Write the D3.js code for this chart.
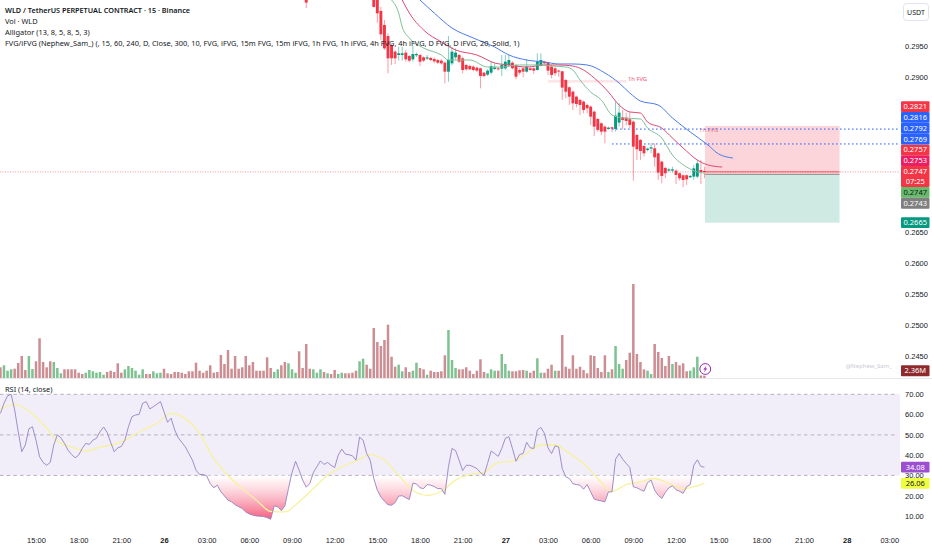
<!DOCTYPE html>
<html>
<head>
<meta charset="utf-8">
<script src="https://cdn.jsdelivr.net/npm/d3@7"></script>
<style>
    html, body { margin: 0; padding: 0; background: #fff; }
    svg { display: block; font-family: "Noto Sans", sans-serif; }
    text { fill: #131722; }
</style>
</head>
<body>
<div id="chart"></div>
<script>
// every bar is 15 minutes, bar 0 is 12:30 on the 25th, last bar is 14:00 on the 27th
const firstBarHour = 12.5;
const barsPerHour = 4;

// [bar, open, high, low, close]
const candles = [
    [86, .3030, .3040, .3011, .3020],
    [105, .3060, .3075, .3012, .3013], [106, .3030, .3045, .29876, .30027], [107, .30065, .3013, .29597, .29688],
    [108, .29839, .2992, .29436, .29462], [109, .29661, .29704, .29059, .29301], [110, .29516, .29543, .29194, .29301],
    [111, .29409, .29435, .2921, .29301], [112, .29355, .2949, .29264, .29382], [113, .29355, .2949, .29264, .29382],
    [114, .29393, .29436, .29247, .29285], [115, .29339, .29355, .29237, .29264], [116, .29285, .295, .29247, .29371],
    [117, .2935, .29393, .29322, .29371], [118, .29355, .29371, .29178, .29247], [119, .29317, .29333, .29242, .29264],
    [120, .29296, .29355, .29274, .29317], [121, .29307, .29328, .29258, .29274], [122, .2929, .29317, .2922, .29253],
    [123, .29274, .2929, .2921, .29231], [124, .29264, .29285, .29199, .2922], [125, .29231, .29253, .28898, .29086],
    [126, .29086, .29661, .28925, .29274], [127, .2922, .2949, .29188, .29409], [128, .29317, .29462, .29285, .29393],
    [129, .29355, .29371, .29226, .29247], [130, .29301, .29328, .29059, .29113], [131, .29194, .2921, .29102, .29124],
    [132, .29178, .29199, .29113, .29124], [133, .29167, .29188, .29091, .29113], [134, .29151, .29167, .29081, .29102],
    [135, .2914, .29151, .28817, .29016], [136, .2907, .29081, .28995, .29016], [137, .29038, .29124, .29016, .29102],
    [138, .2907, .29247, .29038, .29178], [139, .29129, .2922, .29113, .29156], [140, .2914, .29156, .29102, .29124],
    [141, .29134, .29355, .29016, .29194], [142, .2914, .29355, .29113, .29247], [143, .29194, .29355, .29178, .29274],
    [144, .29231, .29253, .29124, .2914], [145, .29194, .2921, .28962, .29005], [146, .29113, .2914, .29038, .2907],
    [147, .2914, .2916, .28995, .29086], [148, .29086, .29285, .2907, .29167], [149, .2914, .29156, .29102, .29113],
    [150, .2914, .29156, .29048, .29102], [151, .29113, .29382, .29102, .29247], [152, .29183, .29382, .29167, .29274],
    [153, .29247, .2926, .292, .29221], [154, .29232, .2925, .29033, .29103], [155, .29167, .292, .28979, .29033],
    [156, .2914, .2916, .29017, .2906], [157, .29103, .2912, .29006, .29087], [158, .29092, .291, .2863, .28829],
    [159, .28952, .2897, .28656, .28764], [160, .28834, .2885, .28549, .28683], [161, .28764, .2878, .28468, .28576],
    [162, .28683, .287, .28511, .28565], [163, .2863, .2865, .28388, .28549], [164, .28603, .2862, .28415, .28468],
    [165, .28549, .2857, .28415, .28495], [166, .28522, .2854, .28226, .28361], [167, .28441, .2846, .28049, .282],
    [168, .28323, .2834, .2812, .28146], [169, .28253, .2827, .28065, .28119], [170, .282, .2822, .27931, .28119],
    [171, .28162, .282, .2815, .28183], [172, .28189, .282, .2811, .28167], [173, .28162, .28603, .2812, .28377],
    [174, .28264, .28576, .282, .28425], [175, .2835, .28468, .28156, .28307], [176, .28345, .28425, .2822, .28291],
    [177, .28318, .28441, .28173, .28226], [178, .2828, .283, .27329, .27877], [179, .28065, .2808, .27662, .27834],
    [180, .27985, .28, .27662, .27807], [181, .27888, .279, .27716, .2777], [182, .27823, .2786, .278, .27845],
    [183, .27845, .27931, .2777, .27866], [184, .2785, .27931, .27554, .27705], [185, .27769, .2778, .27339, .27458],
    [186, .27635, .2765, .27286, .27404], [187, .27533, .2755, .27366, .27447], [188, .2749, .2753, .2747, .27511],
    [189, .2749, .27554, .27458, .27511], [190, .2749, .2751, .27275, .2742], [191, .27447, .2746, .2733, .27366],
    [192, .27415, .2743, .27221, .27339], [193, .27415, .2743, .27259, .2735], [194, .27382, .2742, .2737, .27404],
    [195, .27393, .27581, .27339, .27527], [196, .27393, .27662, .27366, .27608], [197, .27501, .27662, .27275, .27468],
    [198, .27484, .27554, .27366, .2747]
];

// alligator lines, read at the corners of each curve
const jawBars = [118, 122, 127, 133, 139, 143, 148, 153, 157, 161, 165, 170, 174, 177, 180, 185, 189, 194, 199, 202, 206];
const jawPrices = [.30242, .30032, .2979, .29629, .29484, .29355, .29274, .29242, .2921, .2921, .29194, .29065, .28903, .28742, .28613, .28548, .28339, .28113, .27903, .27758, .27694];
const teethBars = [113, 115, 119, 124, 128, 134, 139, 143, 148, 153, 157, 161, 164, 167, 171, 174, 177, 180, 182, 186, 189, 192, 196, 199, 203];
const teethPrices = [.30242, .30032, .29758, .29565, .29436, .29355, .29226, .29194, .29161, .29194, .29194, .29177, .29113, .28984, .28758, .28548, .28436, .28419, .28274, .28177, .28016, .27855, .27661, .27581, .27548];
const lipsBars = [110, 112, 113, 115, 119, 124, 126, 132, 137, 141, 146, 151, 155, 159, 161, 163, 166, 169, 172, 175, 180, 182, 186, 189, 193, 196, 198];
const lipsPrices = [.30242, .30032, .29807, .29629, .29468, .29355, .29274, .29274, .29161, .29161, .29194, .29194, .29177, .29161, .29113, .28952, .28758, .28629, .28387, .28339, .28323, .28177, .28016, .27742, .27548, .27468, .27452];

// volume in millions, one per bar, up = 1 for a green bar
const volumes = [
    10.7, 12.7, 7.3, 8.7, 9.3, 15, 22, 8, 22, 9,
    16.7, 39.7, 16, 10.7, 16.7, 16, 10, 4.7, 8.7, 8.7,
    8.7, 8.7, 5.3, 4, 5.3, 8, 6.7, 5.3, 6, 3.3,
    6, 7.3, 6, 14.7, 5.3, 8.7, 12, 10, 7.3, 3.3,
    8.7, 4, 4, 6.7, 4.7, 5.3, 9.3, 4.7, 4, 6,
    6, 5.3, 4, 6.7, 6.7, 15.3, 7.3, 5.3, 7.3, 12.7,
    5.3, 6, 23, 14, 28, 9.3, 22, 9.3,
    10.7, 22, 12.7, 16, 7.3, 7.3, 7.3, 20.7, 10, 6,
    8.7, 12.7, 16, 14.7, 8.7, 5.3, 26.7, 10, 34, 9.3,
    8.7, 5.3, 8.7, 6, 4.7, 4, 8, 4, 5.3, 4.7,
    4.7, 5.3, 7.3, 16.7, 19.3, 13.3, 9.3, 50, 36, 32,
    38, 53.3, 21.3, 11.3, 13.3, 6.7, 10.7, 6, 7.3, 15.3,
    10, 8.7, 3.3, 7.3, 6, 6, 6.7, 22.7, 48, 18,
    10, 8.7, 8.7, 10.7, 7.3, 4, 7.3,
    18.7, 6, 4.7, 8.7, 7.3, 7.3, 24, 14, 7.3, 6.7,
    6.7, 7.7, 8, 7.3, 5.3, 7.3, 19.7, 5.3, 5.3, 9.3,
    13.3, 7.3, 7.3, 43, 11.3, 9.3, 22.7, 9.3, 11.3, 8,
    4.7, 22.7, 22, 10, 6, 22.7, 6, 8.7, 32, 14,
    9.3, 18, 25.3, 94, 24, 16, 8.7, 7.3, 4, 34,
    26, 20, 12, 22, 14, 16, 12.7, 14.7, 6.7, 7.3,
    10.7, 21.3, 2.5, 2.36
];
const volumeUp = [
    0, 1, 1, 1, 0, 0, 0, 0, 1, 1,
    0, 0, 0, 0, 0, 1, 1, 1, 0, 0,
    0, 0, 0, 0, 1, 1, 1, 1, 1, 1,
    0, 0, 0, 0, 0, 1, 1, 1, 1, 1,
    1, 0, 0, 1, 1, 1, 0, 0, 0, 0,
    0, 0, 0, 0, 0, 0, 0, 0, 0, 0,
    0, 0, 0, 0, 0, 0, 0, 0,
    0, 0, 0, 0, 0, 0, 0, 0, 0, 1,
    1, 0, 0, 1, 1, 1, 0, 0, 0, 0,
    1, 1, 1, 0, 1, 0, 0, 1, 1, 0,
    0, 0, 0, 1, 1, 0, 0, 0, 0, 0,
    0, 0, 0, 0, 1, 1, 0, 0, 1, 1,
    0, 0, 1, 0, 0, 0, 0, 0, 1, 1,
    1, 0, 0, 0, 0, 0, 0,
    0, 0, 1, 1, 1, 0, 1, 1, 1, 0,
    0, 0, 0, 1, 0, 0, 1, 1, 0, 0,
    0, 1, 0, 0, 0, 0, 0, 0, 0, 0,
    0, 0, 0, 0, 0, 0, 1, 0, 1, 1,
    1, 0, 0, 0, 0, 0, 0, 1, 1, 0,
    0, 0, 0, 0, 1, 0, 0, 0, 0, 1,
    1, 1, 0, 0
];

const rsi = [
    60.6, 65.6, 69.2, 70, 62.3, 51.5, 41.7, 45, 53, 54,
    47.4, 39.2, 36.4, 35, 36.4, 45, 50, 48.6, 45.8, 42.5,
    40.3, 38.7, 40, 43.3, 45.8, 45.3, 47.4, 48.3, 51.5, 53.9,
    51.2, 46.3, 41.7, 43.6, 44.3, 47.4, 54, 59, 59.8, 60.1,
    65.6, 66.4, 62.8, 63.9, 65.1, 66.4, 61.4, 56.2, 58.2, 52.4,
    48.6, 46.3, 44.1, 40.8, 37.5, 32.6, 30.5, 30.5, 29.8, 26,
    23.9, 25.2, 21.9, 19.9, 17.8, 17, 15.6, 14.6,
    13.7, 12, 11, 10.4, 10, 9.9, 9.7, 9.2, 8.4, 15,
    14.5, 12.7, 15, 23.5, 31.4, 37, 32.6, 27.7, 24.2, 26,
    31.4, 34.3, 37.2, 35.4, 36.4, 35, 33.9, 40, 43, 40.5,
    40.2, 39.7, 37.5, 48.9, 47.4, 40.8, 37.5, 28.5, 22.7, 19.4,
    17.3, 15.6, 15.3, 16.6, 19.8, 20, 19, 18.1, 26.2, 25.8,
    23.9, 23.5, 25.5, 25.2, 24.5, 23.5, 23.5, 20.7, 34.3, 43.3,
    42.3, 37.5, 32.4, 35, 35, 34.3, 33.4, 31.4,
    30.1, 35.9, 42, 40.8, 39.4, 43.3, 48.3, 49.1, 43.3, 37,
    40.3, 40.8, 46.3, 43.6, 43.3, 52.4, 53.7, 50.7, 43.6, 40.8,
    44.6, 44, 33.4, 29.3, 28.5, 25.9, 25.5, 25.2, 23.2, 25.5,
    21.9, 18.3, 17.8, 17.4, 17, 21.9, 21.9, 38, 40.8, 38,
    35.9, 33.9, 24.4, 23.9, 23, 22.2, 26.5, 27.7, 22.7, 20.2,
    18.6, 21.6, 23.9, 24.9, 22.9, 22.2, 21.1, 24.4, 25.5, 35,
    37.7, 34.4, 34.08
];

// yellow smoothing line, read once an hour
const rsiMaBars = d3.range(0, 198, 4).concat(198);
const rsiMa = [
    62.8, 65, 61.8, 55.2, 47, 44, 42, 44, 45.3, 48.3,
    52.4, 55.7, 60.6, 58, 50.7, 38.4, 30, 23.5, 17.8, 12.3,
    12, 17, 23.5, 30.1, 34.3, 37, 40.3, 37.5, 30.1, 22.7,
    20.2, 22.2, 27.7, 30.5, 31.5, 36.4, 37, 40.8, 45, 45,
    40.8, 35.9, 28.5, 22.2, 25.5, 26.8, 28.5, 26, 23.5, 24.9, 26.06
];

// 0.2850 to 0.2700 sit under the tags, as they do on the real scale
const priceTicks = [.295, .29, .285, .28, .275, .27, .265, .26, .255, .25, .245];
const rsiTicks = [70, 60, 50, 40, 30, 20, 10];
const rsiLevels = [70, 50, 30];

// tick label hours, counted from 00:00 on the 25th
const timeTickHours = d3.range(15, 76, 3);
const timeTickLabel = h => h % 24 === 0 ? String(25 + h / 24) : `${String(h % 24).padStart(2, '0')}:00`;

// long position box
const entryPrice = 0.2743;
const stopPrice = 0.2821;
const targetPrice = 0.2665;
const boxHours = [62.04, 71.5];
const lastPrice = 0.2747;
const fvgLevels = [0.2816, 0.2792];

const legendLines = [
    'WLD / TetherUS PERPETUAL CONTRACT · 15 · Binance',
    'Vol · WLD',
    'Alligator (13, 8, 5, 8, 5, 3)',
    'FVG/iFVG (Nephew_Sam_) (, 15, 60, 240, D, Close, 300, 10, FVG, iFVG, 15m FVG, 15m iFVG, 1h FVG, 1h iFVG, 4h FVG, 4h iFVG, D FVG, D iFVG, 20, Solid, 1)'
];

// price tags on the right scale, the current price stays put and the rest stack off it
const tagsAbove = [
    { value: 0.2753, text: '0.2753', fill: '#e91e63' },
    { value: 0.2757, text: '0.2757', fill: '#f23645' },
    { value: 0.2769, text: '0.2769', fill: '#2962ff' },
    { value: 0.2792, text: '0.2792', fill: '#2962ff' },
    { value: 0.2816, text: '0.2816', fill: '#2962ff' },
    { value: 0.2821, text: '0.2821', fill: '#f23645' }
];
const tagsBelow = [
    { value: 0.2747, text: '0.2747', fill: '#66bb6a', ink: '#131722' },
    { value: 0.2743, text: '0.2743', fill: '#808080' },
    { value: 0.2665, text: '0.2665', fill: '#089981' }
];

const width = 932;
const height = 550;
const plotRight = 900;
const tagLeft = 901;
const tagWidth = 28.5;
const tagHeight = 10.8;
const labelSize = 7.5;

const upColor = '#089981';
const downColor = '#f23645';

const x = d3.scaleLinear().domain([15, 87]).range([36, 36 + 72 * 128 / 9]);
const xBar = bar => x(firstBarHour + bar / barsPerHour);
const yPrice = d3.scaleLinear().domain([.295, .245]).range([46, 356]);
const yVolume = d3.scaleLinear().domain([0, 94]).range([378, 284]);
const yRsi = d3.scaleLinear().domain([70, 10]).range([394.3, 516]);

const svg = d3.select('#chart').append('svg')
    .attr('width', width)
    .attr('height', height)
    .attr('viewBox', `0 0 ${width} ${height}`);

const defs = svg.append('defs');
defs.append('clipPath').attr('id', 'plot-clip')
    .append('rect').attr('width', plotRight).attr('height', 378);

const oversold = defs.append('linearGradient')
    .attr('id', 'oversold')
    .attr('gradientUnits', 'userSpaceOnUse')
    .attr('x1', 0).attr('x2', 0)
    .attr('y1', yRsi(30)).attr('y2', yRsi(8));
oversold.append('stop').attr('offset', 0).attr('stop-color', '#fff').attr('stop-opacity', 0.6);
oversold.append('stop').attr('offset', 1).attr('stop-color', '#f5587a');

// position box
const box = svg.append('g');
box.append('rect')
    .attr('x', x(boxHours[0])).attr('width', x(boxHours[1]) - x(boxHours[0]))
    .attr('y', yPrice(stopPrice)).attr('height', yPrice(entryPrice) - yPrice(stopPrice))
    .attr('fill', '#fcd5da');
box.append('rect')
    .attr('x', x(boxHours[0])).attr('width', x(boxHours[1]) - x(boxHours[0]))
    .attr('y', yPrice(entryPrice)).attr('height', yPrice(targetPrice) - yPrice(entryPrice))
    .attr('fill', '#cfe9e3');
box.append('line')
    .attr('x1', x(boxHours[0])).attr('x2', x(boxHours[1]))
    .attr('y1', yPrice(entryPrice)).attr('y2', yPrice(entryPrice))
    .attr('stroke', '#8a8a8a').attr('stroke-width', 1);
box.append('line')
    .attr('x1', x(boxHours[0])).attr('x2', x(boxHours[1]))
    .attr('y1', yPrice(lastPrice)).attr('y2', yPrice(lastPrice))
    .attr('stroke', '#f23645').attr('stroke-width', 0.8);

// faint 1h FVG band and its labels
svg.append('rect')
    .attr('x', xBar(154)).attr('width', xBar(176) - xBar(154))
    .attr('y', yPrice(0.2895)).attr('height', 2.5)
    .attr('fill', '#fde4e7');
svg.append('text').attr('x', xBar(176.5)).attr('y', yPrice(0.2893))
    .attr('font-size', 5.8).style('fill', '#ec5470').text('1h FVG');
svg.append('text').attr('x', xBar(196.5)).attr('y', yPrice(0.2812))
    .attr('font-size', 5.8).style('fill', '#ec5470').style('opacity', 0.75).text('1h FVG');

// dotted levels
svg.selectAll('.fvg-level')
    .data(fvgLevels)
    .join('line')
    .attr('class', 'fvg-level')
    .attr('x1', xBar(172)).attr('x2', plotRight - 2)
    .attr('y1', d => yPrice(d)).attr('y2', d => yPrice(d))
    .attr('stroke', '#2962ff').attr('stroke-width', 1).attr('stroke-dasharray', '1.6 2.4');
svg.append('line')
    .attr('x1', 0).attr('x2', plotRight)
    .attr('y1', yPrice(lastPrice)).attr('y2', yPrice(lastPrice))
    .attr('stroke', '#f23645').attr('stroke-opacity', 0.65).attr('stroke-width', 0.8).attr('stroke-dasharray', '1 1.5');

// candles
const candleGroup = svg.append('g').attr('clip-path', 'url(#plot-clip)');
const candleColor = d => d[4] >= d[1] ? upColor : downColor;
candleGroup.selectAll('.wick')
    .data(candles)
    .join('line')
    .attr('class', 'wick')
    .attr('x1', d => xBar(d[0])).attr('x2', d => xBar(d[0]))
    .attr('y1', d => yPrice(d[2])).attr('y2', d => yPrice(d[3]))
    .attr('stroke', candleColor).attr('stroke-width', 0.9).attr('stroke-opacity', 0.55);
candleGroup.selectAll('.body')
    .data(candles)
    .join('rect')
    .attr('class', 'body')
    .attr('x', d => xBar(d[0]) - 1.45)
    .attr('width', 2.9)
    .attr('y', d => yPrice(Math.max(d[1], d[4])))
    .attr('height', d => Math.max(1, Math.abs(yPrice(d[1]) - yPrice(d[4]))))
    .attr('fill', candleColor);

// alligator
const smooth = d3.line().curve(d3.curveMonotoneX).x(d => xBar(d[0])).y(d => yPrice(d[1]));
const alligator = [
    { bars: jawBars, prices: jawPrices, color: '#4a7be8' },
    { bars: teethBars, prices: teethPrices, color: '#e0486f' },
    { bars: lipsBars, prices: lipsPrices, color: '#7fbf9a' }
];
alligator.forEach(s => {
    candleGroup.append('path')
        .attr('d', smooth(d3.zip(s.bars, s.prices)))
        .attr('fill', 'none')
        .attr('stroke', s.color)
        .attr('stroke-width', 1);
});

// volume
svg.append('g').selectAll('rect')
    .data(volumes)
    .join('rect')
    .attr('x', (d, i) => xBar(i) - 1.25)
    .attr('width', 2.5)
    .attr('y', d => yVolume(d))
    .attr('height', d => yVolume(0) - yVolume(d))
    .attr('fill', (d, i) => volumeUp[i] ? '#7fc291' : '#cc8e92');

// replay icon sits on the last volume bar
const icon = svg.append('g').attr('transform', `translate(${xBar(198) + 0.8},369)`);
icon.append('circle').attr('r', 5.4).attr('fill', '#fff').attr('stroke', '#9c27b0').attr('stroke-width', 1);
icon.append('path').attr('d', 'M1.2,-3.2 L-2,0.5 L-0.2,0.5 L-1.2,3.2 L2,-0.6 L0.2,-0.6 Z').attr('fill', '#9c27b0');

svg.append('text').attr('x', 892).attr('y', 368).attr('text-anchor', 'end')
    .attr('font-size', 6).style('fill', '#c9ccd3').text('@Nephew_Sam_');

// pane divider
svg.append('line')
    .attr('x1', 0).attr('x2', width).attr('y1', 378.5).attr('y2', 378.5)
    .attr('stroke', '#e6e8ee');

// rsi pane
svg.append('rect')
    .attr('x', 0).attr('width', plotRight)
    .attr('y', yRsi(70)).attr('height', yRsi(30) - yRsi(70))
    .attr('fill', '#f2eef9');
svg.selectAll('.rsi-level')
    .data(rsiLevels)
    .join('line')
    .attr('class', 'rsi-level')
    .attr('x1', 0).attr('x2', plotRight - 2)
    .attr('y1', d => yRsi(d)).attr('y2', d => yRsi(d))
    .attr('stroke', '#8f8a98').attr('stroke-opacity', 0.8).attr('stroke-dasharray', '3.5 3.2').attr('stroke-width', 0.8);

svg.append('path')
    .attr('d', d3.area()
        .x((d, i) => xBar(i))
        .y0(yRsi(30))
        .y1(d => yRsi(Math.min(d, 30)))(rsi))
    .attr('fill', 'url(#oversold)');
svg.append('path')
    .attr('d', d3.line().curve(d3.curveMonotoneX)
        .x(d => xBar(d[0])).y(d => yRsi(d[1]))(d3.zip(rsiMaBars, rsiMa)))
    .attr('fill', 'none').attr('stroke', '#f6f29c').attr('stroke-width', 1.3);
svg.append('path')
    .attr('d', d3.line().x((d, i) => xBar(i)).y(d => yRsi(d))(rsi))
    .attr('fill', 'none').attr('stroke', '#9482c2').attr('stroke-width', 0.9);

// axes
const priceAxis = svg.append('g')
    .attr('transform', `translate(${plotRight},0)`)
    .call(d3.axisRight(yPrice).tickValues(priceTicks).tickSize(0).tickPadding(5).tickFormat(d3.format('.4f')));
const rsiAxis = svg.append('g')
    .attr('transform', `translate(${plotRight},0)`)
    .call(d3.axisRight(yRsi).tickValues(rsiTicks).tickSize(0).tickPadding(5).tickFormat(d3.format('.2f')));
const timeAxis = svg.append('g')
    .attr('transform', 'translate(0,535)')
    .call(d3.axisBottom(x).tickValues(timeTickHours).tickSize(0).tickPadding(3).tickFormat(timeTickLabel));
[priceAxis, rsiAxis, timeAxis].forEach(axis => {
    axis.select('.domain').remove();
    axis.selectAll('text').attr('font-size', labelSize).attr('font-family', null);
});
timeAxis.selectAll('text').attr('font-weight', h => h % 24 === 0 ? 600 : 400);

// legend
svg.append('g').selectAll('text')
    .data(legendLines)
    .join('text')
    .attr('x', 5)
    .attr('y', (d, i) => 13 + i * 11)
    .attr('font-size', (d, i) => i === 0 ? 7.25 : 7.4)
    .attr('font-weight', (d, i) => i === 0 ? 600 : 400)
    .text(d => d);
svg.append('text').attr('x', 5).attr('y', 391.5).attr('font-size', 7.4).text('RSI (14, close)');

// USDT box
svg.append('rect')
    .attr('x', 903.5).attr('y', 3.5).attr('width', 25).attr('height', 17).attr('rx', 3)
    .attr('fill', '#fff').attr('stroke', '#e0e3eb');
svg.append('text').attr('x', 916).attr('y', 14.6).attr('text-anchor', 'middle')
    .attr('font-size', 7).text('USDT');

// right scale tags
function drawTag(y, h, fill, ink, lines) {
    const g = svg.append('g');
    g.append('rect')
        .attr('x', tagLeft).attr('y', y).attr('width', tagWidth).attr('height', h)
        .attr('rx', 1).attr('fill', fill);
    lines.forEach((t, i) => {
        g.append('text')
            .attr('x', tagLeft + tagWidth / 2)
            .attr('y', y + 8 + i * tagHeight * 0.9)
            .attr('text-anchor', 'middle')
            .attr('font-size', labelSize)
            .style('fill', ink)
            .text(t);
    });
}

const lastTop = yPrice(lastPrice) - tagHeight / 2 - 0.4;
const lastHeight = tagHeight * 2 - 0.6;
let edge = lastTop;
tagsAbove.forEach(t => {
    const top = Math.min(yPrice(t.value) - tagHeight / 2, edge - tagHeight);
    drawTag(top, tagHeight, t.fill, t.ink || '#fff', [t.text]);
    edge = top;
});
edge = lastTop + lastHeight;
tagsBelow.forEach(t => {
    const top = Math.max(yPrice(t.value) - tagHeight / 2, edge);
    drawTag(top, tagHeight, t.fill, t.ink || '#fff', [t.text]);
    edge = top + tagHeight;
});
drawTag(lastTop, lastHeight, '#f23645', '#fff', ['0.2747', '07:25']);

// last values of volume and the two rsi lines
drawTag(yVolume(2.36) - 10.3, tagHeight, '#8e2a2e', '#fff', ['2.36M']);
drawTag(yRsi(34.08) - tagHeight / 2, tagHeight, '#9c4fd0', '#fff', ['34.08']);
drawTag(yRsi(26.06) - tagHeight / 2, tagHeight, '#eeff41', '#131722', ['26.06']);
</script>
</body>
</html>
